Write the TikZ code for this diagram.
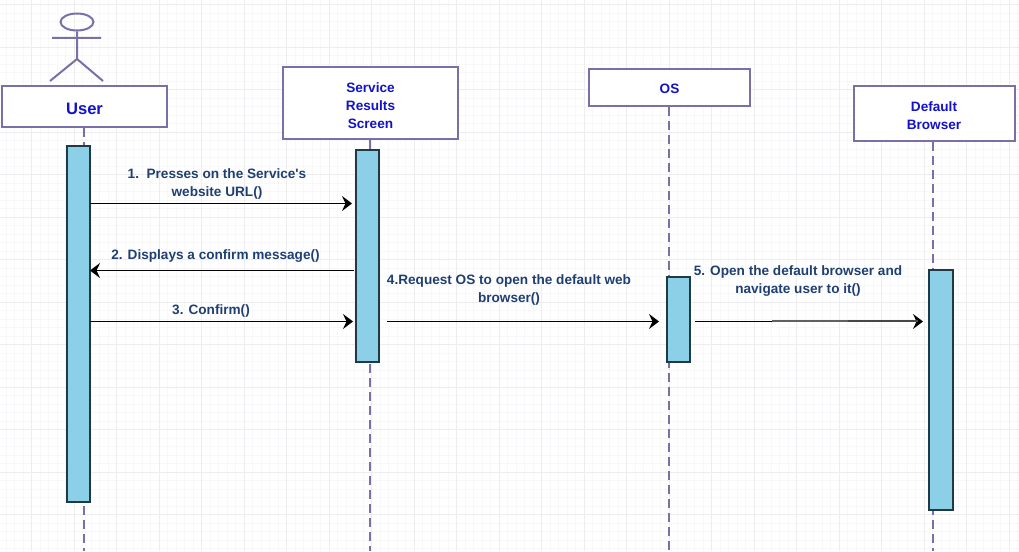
\documentclass[tikz,border=0pt]{standalone}
\usepackage{fontspec}
\setmainfont{Liberation Sans}[Ligatures=TeXOff]
\usepackage{xcolor}
\usepackage{tikz}
\usetikzlibrary{arrows.meta,positioning,calc,shapes.geometric}
\definecolor{hdrline}{HTML}{7A70A8}
\definecolor{lifeline}{HTML}{7A70A8}
\definecolor{barfill}{HTML}{8BD0E6}
\definecolor{barline}{HTML}{1F3A46}
\definecolor{msgtext}{HTML}{1F3F73}
\definecolor{hdrtext}{HTML}{1212C8}
\definecolor{gridminor}{HTML}{F8F8FA}
\definecolor{gridmajor}{HTML}{EDEDF0}
\newcommand{\hdrtxt}[2]{\raisebox{#1}[\height][\depth]{\begin{tabular}{@{}c@{}}#2\end{tabular}}}
\tikzset{
  hdr/.style     = {rectangle, draw=hdrline, fill=white, line width=2pt, inner sep=0pt,
                    align=center, text=hdrtext, font=\bfseries\fontsize{13.6}{18}\selectfont},
  bar/.style     = {rectangle, draw=barline, fill=barfill, line width=2pt, inner sep=0pt},
  lfl/.style     = {draw=lifeline, line width=2pt, dash pattern=on 9pt off 5pt},
  msg/.style     = {draw=black, line width=1.1pt, -{Stealth[length=10pt,width=15pt,inset=3.5pt]}},
  lbl/.style     = {align=center, inner sep=0pt, text=msgtext,
                    font=\bfseries\fontsize{13.6}{18}\selectfont},
  act/.style     = {draw=hdrline, line width=2pt},
}
\begin{document}
\begin{tikzpicture}[x=1pt,y=-1pt]
  \useasboundingbox (0,0) rectangle (1019,551);
  % background grid
  \foreach \gx in {6,14.5,...,1019} \draw[gridminor,line width=0.6pt] (\gx,0) -- (\gx,551);
  \foreach \gy in {4.5,13,...,551} \draw[gridminor,line width=0.6pt] (0,\gy) -- (1019,\gy);
  \foreach \gx in {31.5,74,...,1019} \draw[gridmajor,line width=0.6pt] (\gx,0) -- (\gx,551);
  \foreach \gy in {4.5,47,...,551} \draw[gridmajor,line width=0.6pt] (0,\gy) -- (1019,\gy);
  % lifeline ends
  \coordinate (e1) at (84,551);
  \coordinate (e2) at (369.5,551);
  \coordinate (e3) at (669,551);
  \coordinate (e4) at (933,551);
  % lifelines
  \node[hdr, minimum width=165pt, minimum height=41pt, font=\bfseries\fontsize{16.6}{18}\selectfont] (user) at (84.5,106.5) {\hdrtxt{-4pt}{User}};
  \node[hdr, minimum width=175pt, minimum height=72pt] (service) at (370.5,103) {\hdrtxt{-4pt}{Service\\Results\\Screen}};
  \node[hdr, minimum width=161pt, minimum height=37pt] (os) at (669.5,87.5) {\hdrtxt{-2.5pt}{OS}};
  \node[hdr, minimum width=161pt, minimum height=55pt] (browser) at (934,113.5) {\hdrtxt{-3pt}{Default\\Browser}};
  \draw[lfl] (e1 |- user.south) -- (e1);
  \draw[lfl] (e2 |- service.south) -- (e2);
  \draw[lfl] (e3 |- os.south) -- (e3);
  \draw[lfl] (e4 |- browser.south) -- (e4);
  % activation bars
  \node[bar, minimum width=23pt, minimum height=356pt] (baru) at (78.5,324) {};
  \node[bar, minimum width=23pt, minimum height=212pt] (bars) at (367.5,256) {};
  \node[bar, minimum width=23pt, minimum height=85pt] (baro) at (678,319.5) {};
  \node[bar, minimum width=24pt, minimum height=240pt] (barb) at (941,390) {};
  % actor
  \node[ellipse, draw=hdrline, line width=2pt, minimum width=33pt, minimum height=17pt, inner sep=0pt] (head) at (77,22) {};
  \coordinate (hipc) at (77,59);
  \coordinate (arml) at (52,38);
  \coordinate (armr) at (101,38);
  \coordinate (legl) at (50,81);
  \coordinate (legr) at (103,81);
  \draw[act] (head) -- (hipc) (arml) -- (armr) (legl) -- (hipc) -- (legr);
  % messages
  \coordinate (m1a) at (90,203.5);   \coordinate (m1b) at (352,203.5);
  \coordinate (m2a) at (354,270.5);  \coordinate (m2b) at (90,270.5);
  \coordinate (m3a) at (90,321.5);   \coordinate (m3b) at (353,321.5);
  \coordinate (m4a) at (387,321.5);  \coordinate (m4b) at (659,321.5);
  \coordinate (m5a) at (695,321.5);  \coordinate (m5b) at (923,321.5);
  \coordinate (m5c) at (772,321.3);  \coordinate (m5d) at (848,321.3);
  \coordinate (m5e) at (918,321.3);
  \draw[msg] (m1a) -- (m1b);
  \draw[msg] (m2a) -- (m2b);
  \draw[msg] (m3a) -- (m3b);
  \draw[msg] (m4a) -- (m4b);
  \draw[msg] (m5a) -- (m5b);
  \draw[draw=black!62,line width=2pt] (m5c) -- (m5d);
  \draw[draw=black!72,line width=2pt] (m5d) -- (m5e);
  % labels
  \node[lbl] (t1) at (217,184) {1.\ \ Presses on the Service's\\website URL()};
  \node[lbl] (t2) at (215.5,256) {2. Displays a confirm message()};
  \node[lbl] (t3) at (211,310.5) {3. Confirm()};
  \node[lbl] (t4) at (509,290) {4.Request OS to open the default web\\browser()};
  \node[lbl] (t5) at (798,281.5) {5. Open the default browser and\\navigate user to it()};
\end{tikzpicture}
\end{document}
